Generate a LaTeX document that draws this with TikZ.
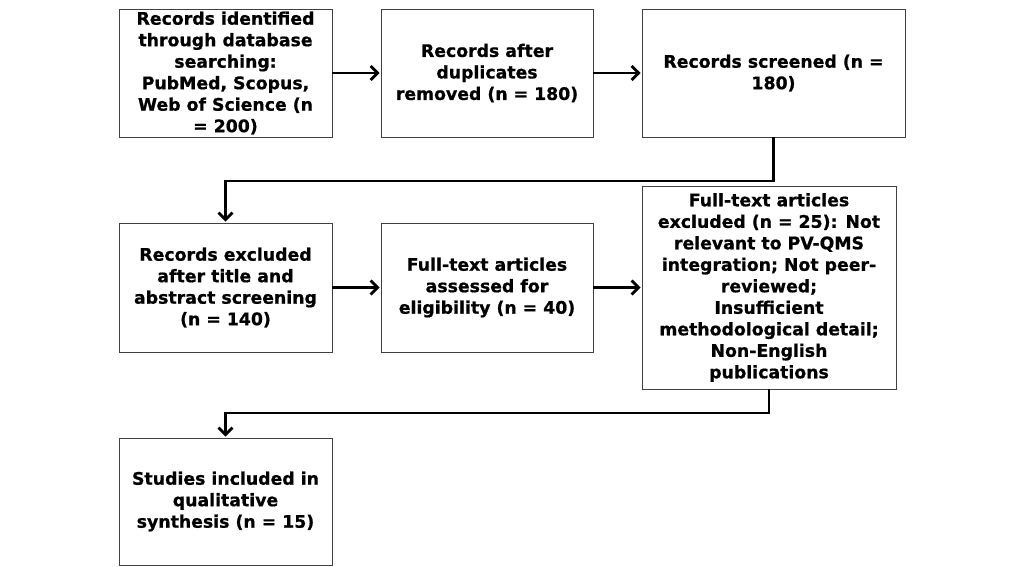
\documentclass[tikz,border=0pt]{standalone}
\usepackage{fontspec}
\setmainfont{DejaVu Sans}[BoldFeatures={FakeBold=0.8}]
\usetikzlibrary{arrows.meta}

\tikzset{
  box/.style={draw=black!75, line width=0.8pt, align=center, inner sep=0pt,
    font=\bfseries\fontsize{17.3pt}{21.5pt}\selectfont},
  flow/.style={line width=2.8pt, -{Straight Barb[length=7pt,width=14pt]}, shorten >=1pt}
}

\begin{document}
\begin{tikzpicture}[x=1pt,y=-1pt]
\useasboundingbox (0,0) rectangle (1024,566);
% top row
\node[box, minimum width=213pt, minimum height=128pt] (ident) at (225.5,73)
  {Records identified\\through database\\searching:\\PubMed, Scopus,\\Web of Science (n\\= 200)};
\node[box, minimum width=212pt, minimum height=128pt] (dupl) at (487,73)
  {Records after\\duplicates\\removed (n = 180)};
\node[box, minimum width=263pt, minimum height=128pt] (screen) at (773.5,73)
  {Records screened (n =\\180)};
% middle row
\node[box, minimum width=213pt, minimum height=129pt] (excl) at (225.5,287.5)
  {Records excluded\\after title and\\abstract screening\\(n = 140)};
\node[box, minimum width=212pt, minimum height=129pt] (elig) at (487,287.5)
  {Full-text articles\\assessed for\\eligibility (n = 40)};
\node[box, minimum width=254pt, minimum height=203pt] (ftexcl) at (769,287.5)
  {Full-text articles\\excluded (n = 25): Not\\relevant to PV-QMS\\integration; Not peer-\\reviewed;\\Insufficient\\methodological detail;\\Non-English\\publications};
% bottom row
\node[box, minimum width=213pt, minimum height=127pt] (incl) at (225.5,501.5)
  {Studies included in\\qualitative\\synthesis (n = 15)};

\coordinate (bendA) at (0,181);
\coordinate (bendB) at (0,413);

\draw[flow] (ident) -- (dupl);
\draw[flow] (dupl) -- (screen);
\draw[flow] (screen.south) -- (screen.south |- bendA) -- (excl.north |- bendA) -- (excl.north);
\draw[flow] (excl) -- (elig);
\draw[flow] (elig) -- (ftexcl);
\draw[flow] (ftexcl.south) -- (ftexcl.south |- bendB) -- (incl.north |- bendB) -- (incl.north);
\end{tikzpicture}
\end{document}
